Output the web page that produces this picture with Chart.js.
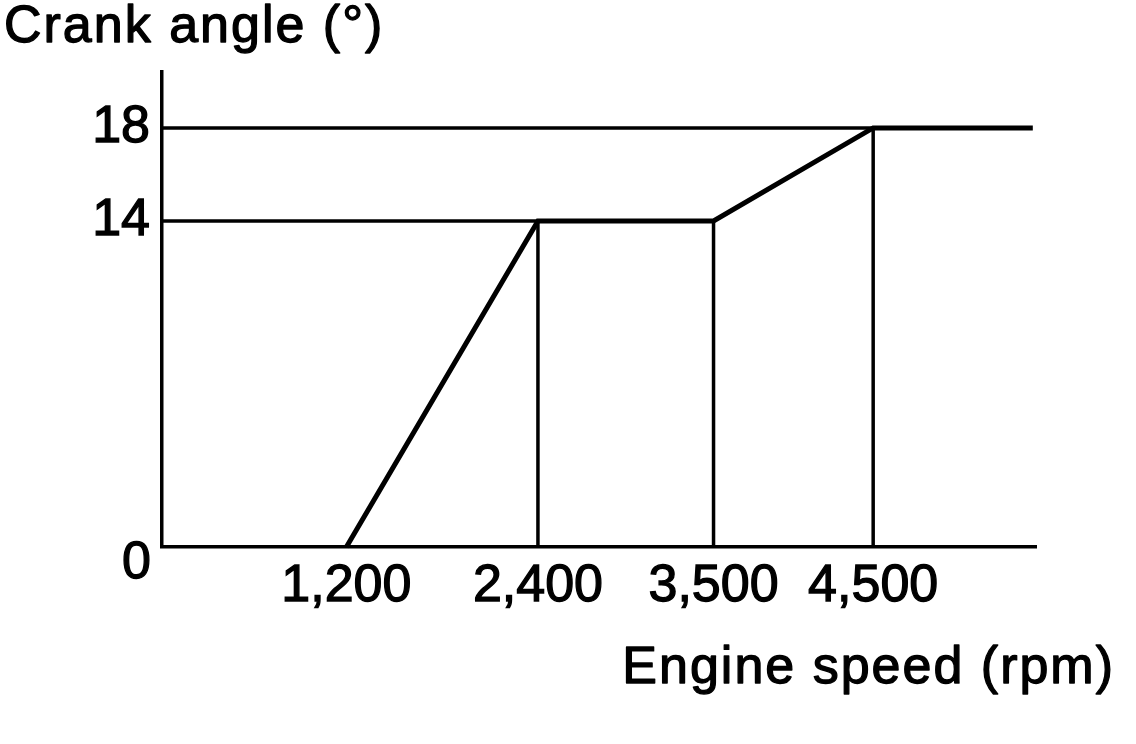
<!DOCTYPE html>
<html><head><meta charset="utf-8">
<script src="https://cdn.jsdelivr.net/npm/chart.js@4/dist/chart.umd.min.js"></script>
<style>html,body{margin:0;padding:0;background:#fff;} #wrap{width:1136px;height:744px;}</style>
</head><body><div id="wrap"><canvas id="c" width="1136" height="744"></canvas></div>
<script>
// ---- data ----
const speedRpm = [1200, 2400, 3500, 4500, 5500];
const crankAngle = [0, 14, 14, 18, 18];
const xTickValues = [1200, 2400, 3500, 4500];
const yTickValues = [14, 18];
const guideLevels = [14, 18];
const guideLevelEnds = [2400, 4500];
const guideVerticals = [2400, 3500, 4500];
const guideVerticalTops = [14, 14, 18];
const X_MIN = 45, X_MAX = 5520, Y_MIN = 0, Y_MAX = 20.4;
const yTitle = 'Crank angle (°)';
const xTitle = 'Engine speed (rpm)';
const zeroLabel = '0';

const FONT = '"Liberation Sans", Arial, Helvetica, sans-serif';

const mainData = speedRpm.map((x, i) => ({x: x, y: crankAngle[i]}));
const guideSets = [];
guideLevels.forEach((lv, i) => {
  guideSets.push({data: [{x: X_MIN, y: lv}, {x: guideLevelEnds[i], y: lv}]});
});
guideVerticals.forEach((xv, i) => {
  guideSets.push({data: [{x: xv, y: Y_MIN}, {x: xv, y: guideVerticalTops[i]}]});
});

const datasets = guideSets.map(g => ({
  data: g.data, showLine: true, borderColor: '#000', borderWidth: 3.5,
  pointRadius: 0, fill: false, tension: 0, clip: false
}));
datasets.push({
  data: mainData, showLine: true, borderColor: '#000', borderWidth: 5,
  pointRadius: 0, fill: false, tension: 0, clip: false,
  borderJoinStyle: 'miter'
});

const textPlugin = {
  id: 'axisText',
  afterDraw(chart) {
    const ctx = chart.ctx;
    const ys = chart.scales.y;
    ctx.save();
    ctx.fillStyle = '#000';
    ctx.strokeStyle = '#000';
    ctx.lineWidth = 1.3;
    ctx.lineJoin = 'round';
    ctx.font = '52px ' + FONT;
    ctx.letterSpacing = '2px';
    ctx.textAlign = 'left';
    ctx.textBaseline = 'alphabetic';
    ctx.fillText(yTitle, 4, 42);
    ctx.strokeText(yTitle, 4, 42);
    ctx.textAlign = 'right';
    ctx.fillText(xTitle, 1115, 683);
    ctx.strokeText(xTitle, 1115, 683);
    ctx.letterSpacing = '0px';
    ctx.textBaseline = 'middle';
    const zy = ys.getPixelForValue(0) + 17;
    ctx.fillText(zeroLabel, 151, zy);
    ctx.strokeText(zeroLabel, 151, zy);
    ctx.restore();
  }
};

new Chart(document.getElementById('c'), {
  type: 'scatter',
  data: {datasets: datasets},
  options: {
    responsive: false,
    animation: false,
    events: [],
    layout: {padding: {top: 72, right: 100, left: 0, bottom: 0}},
    plugins: {legend: {display: false}, tooltip: {enabled: false}, title: {display: false}},
    scales: {
      x: {
        type: 'linear', min: X_MIN, max: X_MAX,
        grid: {display: false, drawTicks: false},
        border: {display: true, color: '#000', width: 3.5},
        afterBuildTicks: s => { s.ticks = xTickValues.map(v => ({value: v})); },
        afterFit: s => { s.height = 197; },
        ticks: {
          color: '#000', padding: 8, maxRotation: 0, autoSkip: false,
          textStrokeColor: '#000', textStrokeWidth: 1.3,
          font: {family: FONT, size: 52},
          callback: v => Number(v).toLocaleString('en-US')
        }
      },
      y: {
        type: 'linear', min: Y_MIN, max: Y_MAX,
        grid: {display: false, drawTicks: false},
        border: {display: true, color: '#000', width: 3.5},
        afterBuildTicks: s => { s.ticks = yTickValues.map(v => ({value: v})); },
        afterFit: s => { s.width = 162; },
        ticks: {
          color: '#000', padding: 12, autoSkip: false,
          textStrokeColor: '#000', textStrokeWidth: 1.3,
          font: {family: FONT, size: 52},
          callback: v => String(v)
        }
      }
    }
  },
  plugins: [textPlugin]
});
</script></body></html>
